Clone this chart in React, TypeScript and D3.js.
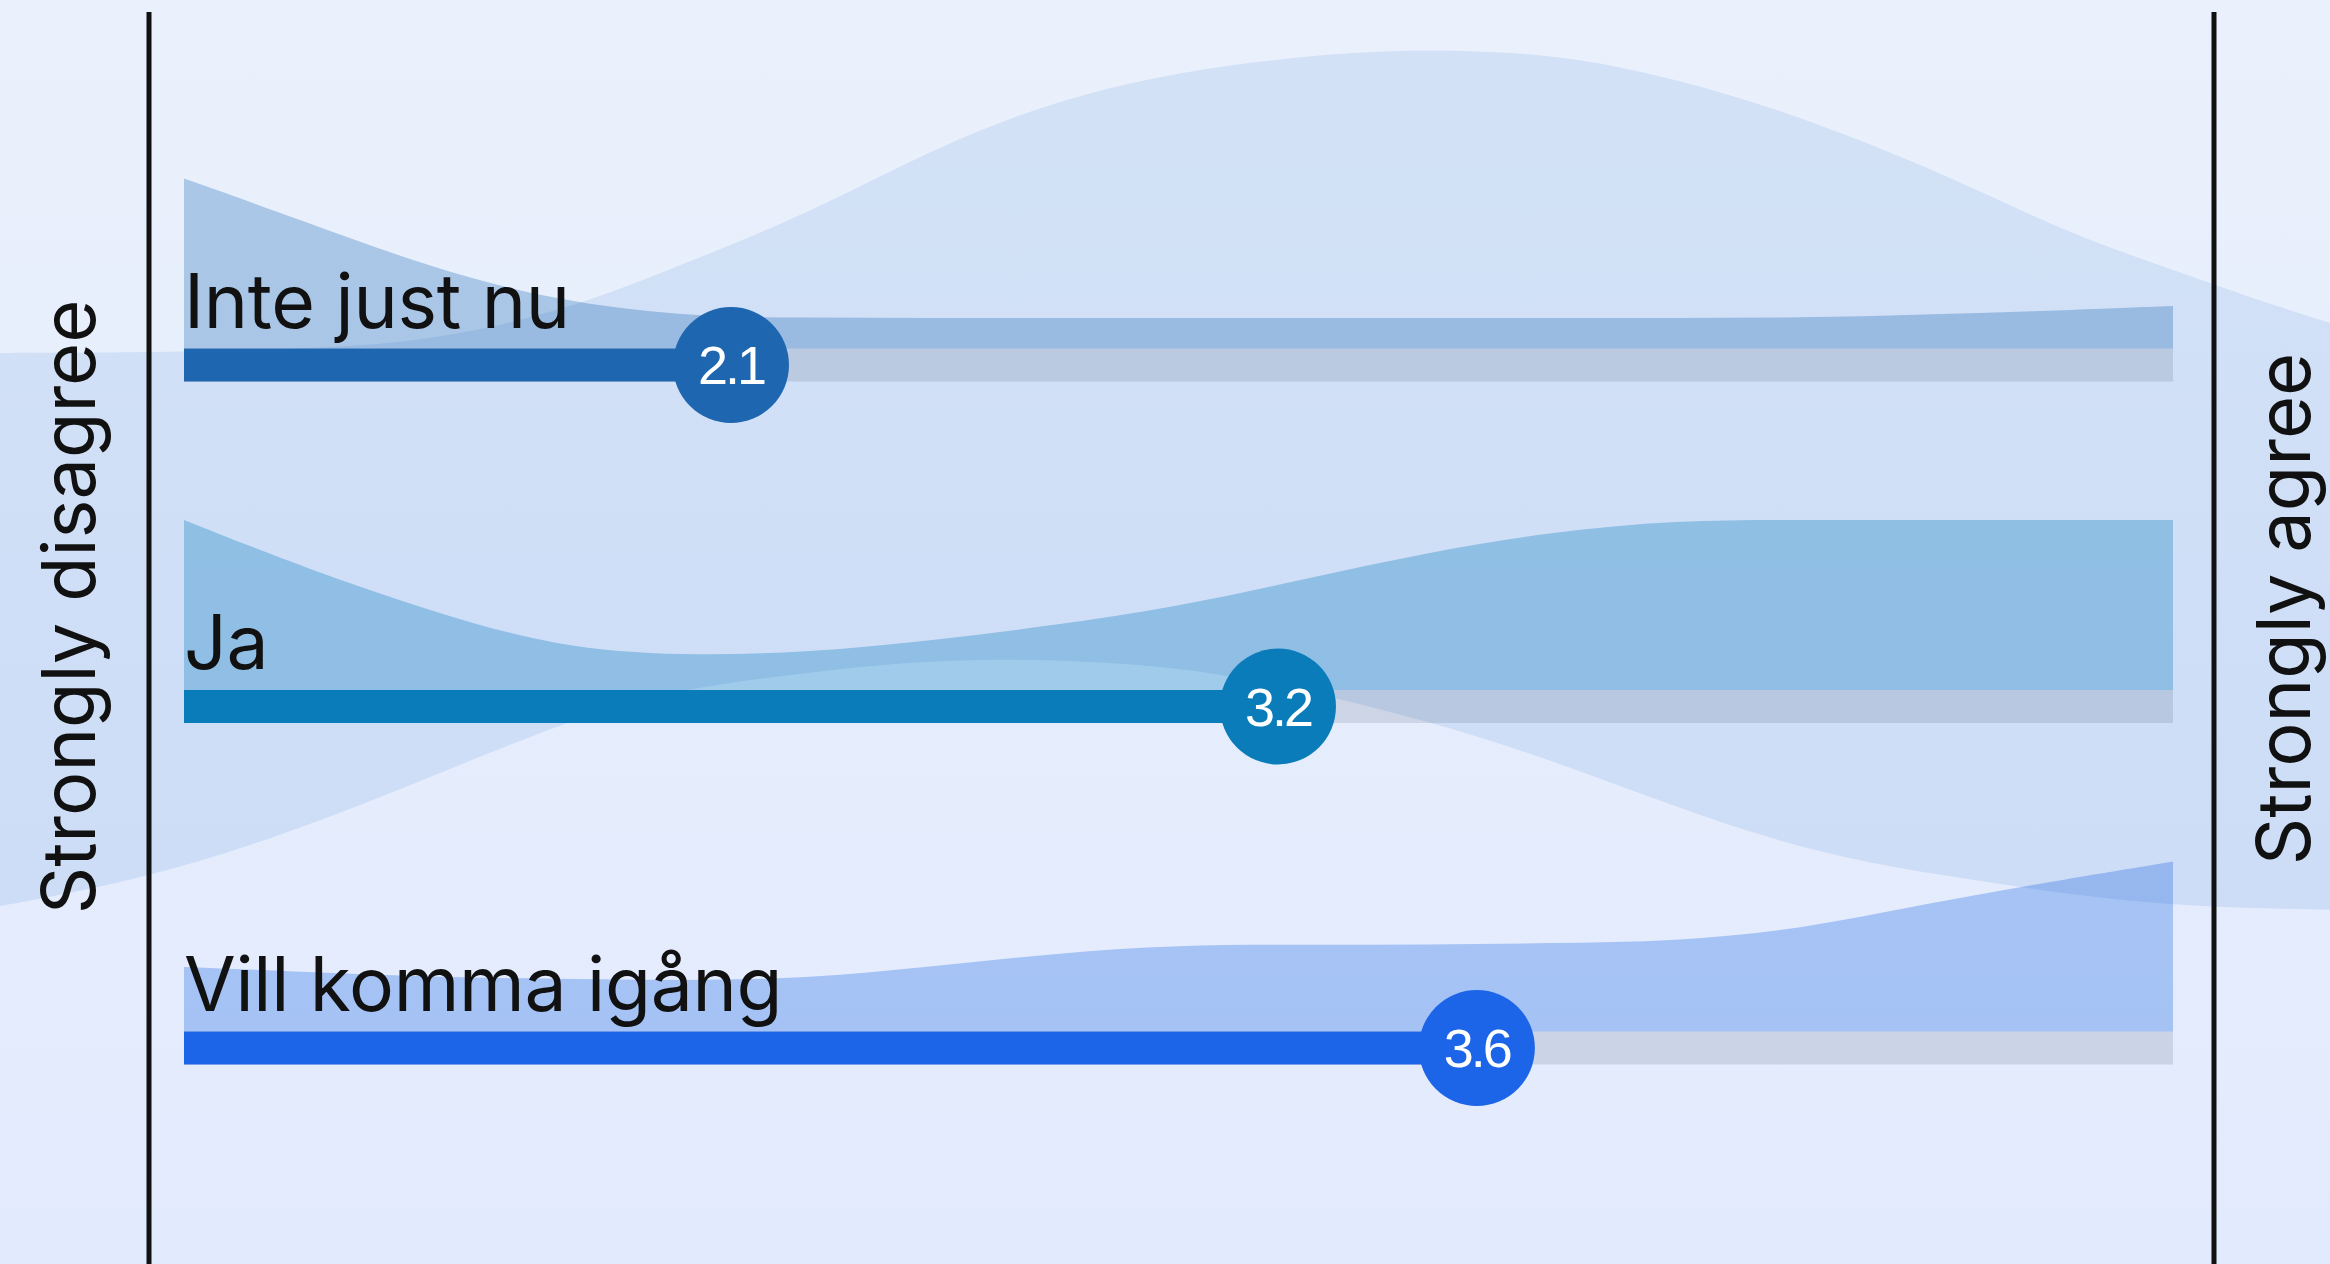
import { useEffect } from 'react';
import * as d3 from 'd3';

// ── Data ───────────────────────────────────────────────────────────────
const CATEGORIES = ['Inte just nu', 'Ja', 'Vill komma igång'];
const MEANS = [2.1, 3.2, 3.6];

// density grid on the 1–5 answer scale (relative density, max = 1)
const GRID = [1, 1.25, 1.5, 1.75, 2, 2.25, 2.5, 2.75, 3, 3.25, 3.5, 3.75, 4, 4.25, 4.5, 4.75, 5];
const DENS_INTE = [1.0, 0.74, 0.47, 0.28, 0.19, 0.18, 0.18, 0.18, 0.18, 0.18, 0.18, 0.18, 0.18, 0.18, 0.2, 0.22, 0.25];
const DENS_JA = [1.0, 0.71, 0.46, 0.25, 0.2, 0.22, 0.29, 0.38, 0.49, 0.65, 0.81, 0.93, 1.0, 1.0, 1.0, 1.0, 1.0];
const DENS_VILL = [0.38, 0.35, 0.32, 0.31, 0.3, 0.31, 0.38, 0.46, 0.51, 0.51, 0.51, 0.52, 0.53, 0.6, 0.75, 0.88, 1.0];
const DENSITIES = [DENS_INTE, DENS_JA, DENS_VILL];

// overall backdrop band, upper / lower extent around the middle row
const BAND_SCORES = [0.6, 0.9, 1.2, 1.5, 1.8, 2.0, 2.2, 2.4, 2.6, 2.8, 3.0, 3.2, 3.4, 3.6, 3.8, 4.0, 4.2, 4.4, 4.6, 4.8, 5.0, 5.2, 5.4];
const BAND_UPPER = [2.08, 2.08, 2.1, 2.14, 2.36, 2.6, 2.83, 3.12, 3.4, 3.6, 3.73, 3.81, 3.86, 3.86, 3.82, 3.69, 3.52, 3.3, 3.05, 2.77, 2.57, 2.36, 2.18];
const BAND_LOWER = [-1.19, -1.03, -0.76, -0.41, -0.05, 0.1, 0.18, 0.25, 0.28, 0.27, 0.23, 0.13, -0.01, -0.17, -0.37, -0.59, -0.79, -0.93, -1.02, -1.11, -1.17, -1.19, -1.2];

const BAR_COLORS = ['#1f66b0', '#0a7cb9', '#1c64e8'];
const AREA_COLORS = ['#bbd4ea', '#b1dbed', '#bad3f7'];

const W = 2330;
const H = 1264;
const TRACK_H = 33;
const LABEL_FONT = 'Inter, "Noto Sans", sans-serif';

export default function App() {
  useEffect(() => {
    document.body.style.margin = '0';
    document.body.style.overflow = 'hidden';
  }, []);

  const x = d3.scaleLinear().domain([1, 5]).range([184, 2173]);
  const rowY = d3.scalePoint<string>().domain(CATEGORIES).range([365, 1048]);
  const dens = d3.scaleLinear().domain([0, 1]).range([0, 170]);

  const center = rowY('Ja')!;
  const band = d3
    .area<number>()
    .x((_, i) => x(BAND_SCORES[i]))
    .y0((_, i) => center - dens(BAND_LOWER[i]))
    .y1((_, i) => center - dens(BAND_UPPER[i]))
    .curve(d3.curveBasis)(BAND_SCORES);

  const lineLeft = x(1) - 35;
  const lineRight = x(5) + 41;

  return (
    <svg width={W} height={H} style={{ display: 'block' }}>
      <defs>
        <linearGradient id="bg" x1="0" x2="0" y1="0" y2="1">
          <stop offset="0%" stopColor="#eaf1fc" />
          <stop offset="100%" stopColor="#e2eafd" />
        </linearGradient>
      </defs>
      <rect width={W} height={H} fill="url(#bg)" />

      {/* overall band */}
      <path d={band ?? ''} fill="#e6eff9" style={{ mixBlendMode: 'multiply' }} />

      {CATEGORIES.map((cat, i) => {
        const cy = rowY(cat)!;
        const base = cy - TRACK_H / 2;
        const area = d3
          .area<number>()
          .x((s) => x(s))
          .y0(base)
          .y1((_, j) => base - dens(DENSITIES[i][j]))
          .curve(d3.curveBasis)(GRID);
        return (
          <g key={cat}>
            <path d={area ?? ''} fill={AREA_COLORS[i]} style={{ mixBlendMode: 'multiply' }} />
            <rect
              x={x(1)}
              y={base}
              width={x(5) - x(1)}
              height={TRACK_H}
              fill="#e4e6e9"
              style={{ mixBlendMode: 'multiply' }}
            />
            <rect x={x(1)} y={base} width={x(MEANS[i]) - x(1)} height={TRACK_H} fill={BAR_COLORS[i]} />
            <text
              x={x(1)}
              y={base - 21}
              fontFamily={LABEL_FONT}
              fontSize={75}
              letterSpacing={-0.3}
              fill="#111"
            >
              {cat}
            </text>
            <circle cx={x(MEANS[i])} cy={cy} r={58} fill={BAR_COLORS[i]} />
            <text
              x={x(MEANS[i])}
              y={cy + 19}
              textAnchor="middle"
              fontFamily='"Liberation Sans", Arial, sans-serif'
              fontSize={54}
              letterSpacing={-3}
              fill="#fff"
            >
              {MEANS[i].toFixed(1)}
            </text>
          </g>
        );
      })}

      <line x1={lineLeft} x2={lineLeft} y1={12} y2={H} stroke="#111" strokeWidth={5} />
      <line x1={lineRight} x2={lineRight} y1={12} y2={H} stroke="#111" strokeWidth={5} />

      <text
        transform={`translate(95,607) rotate(-90)`}
        textAnchor="middle"
        fontFamily={LABEL_FONT}
        fontSize={74}
        fill="#111"
      >
        Strongly disagree
      </text>
      <text
        transform={`translate(2310,609) rotate(-90)`}
        textAnchor="middle"
        fontFamily={LABEL_FONT}
        fontSize={74}
        fill="#111"
      >
        Strongly agree
      </text>
    </svg>
  );
}
